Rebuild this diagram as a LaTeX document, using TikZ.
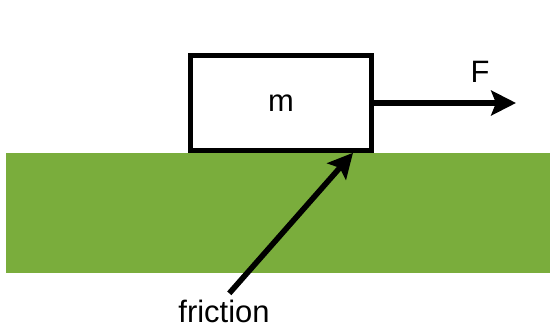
\documentclass[tikz,border=0pt]{standalone}
\usepackage{fontspec}
\setmainfont{Liberation Sans}
\usetikzlibrary{arrows.meta}
\definecolor{grass}{RGB}{122,173,60}
\tikzset{
  force/.style={line width=0.14cm, -{Stealth[length=0.62cm,width=0.62cm,inset=0.12cm]}},
  label/.style={font=\fontsize{22}{26}\selectfont, inner sep=0pt}
}
\begin{document}
\begin{tikzpicture}
        \useasboundingbox (0,0) rectangle (13.75,8.25);

        % Ground
        \fill[grass] (0.15,1.425) rectangle (13.75,4.425);

        % Block of mass m
        \node[draw, fill=white, line width=0.125cm, minimum width=4.525cm, minimum height=2.375cm,
              label] (mass) at (7.025,5.675) {m};

        % Pulling force F
        \coordinate (Ftip) at (12.9,5.675);
        \draw[force] (mass.east) -- (Ftip);
        \node[label] (F) at (12.0,6.45) {F};

        % Friction at the contact
        \coordinate (fricTip) at (8.825,4.43);
        \node[label, anchor=base] (fric) at (5.6,0.2) {friction};
        \draw[force, shorten <=0.2cm] (fric.north) -- (fricTip);

    \end{tikzpicture}
\end{document}
